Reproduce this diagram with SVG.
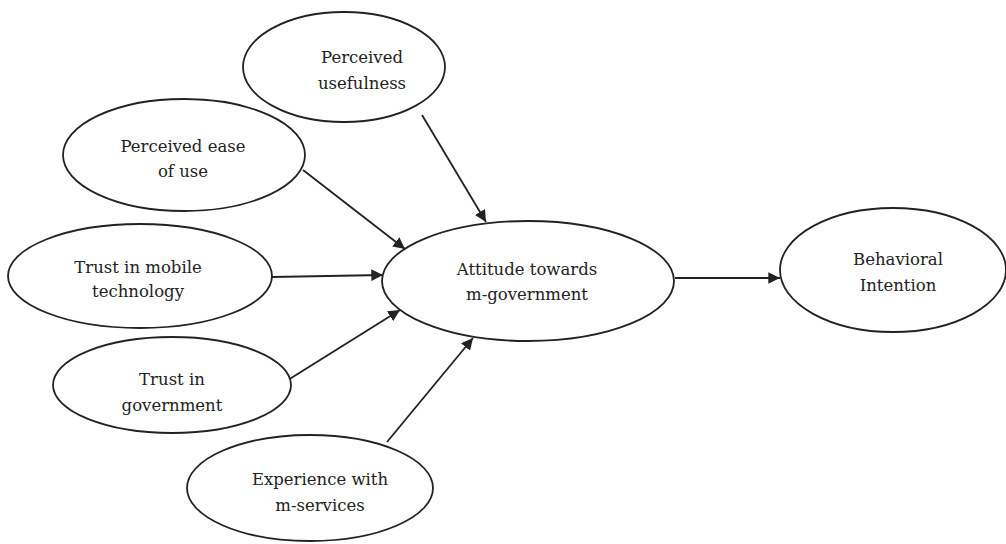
<svg xmlns="http://www.w3.org/2000/svg" width="1006" height="544" viewBox="0 0 1006 544">
<defs>
<style>
.n{fill:#fff;stroke:#222;stroke-width:1.8}
.t{font-family:"DejaVu Serif","Liberation Serif",serif;font-size:16.5px;fill:#222;text-anchor:middle}
.c{stroke:#222;stroke-width:1.8;fill:none;marker-end:url(#ah)}
</style>
<marker id="ah" viewBox="0 0 10 10" refX="10" refY="5" markerWidth="6.5" markerHeight="6.5" orient="auto" markerUnits="strokeWidth">
<path d="M0,0 L10,5 L0,10 z" fill="#222"/>
</marker>
</defs>
<rect width="1006" height="544" fill="#fff"/>
<g id="connectors">
<line class="c" x1="422" y1="115" x2="486" y2="222"/>
<line class="c" x1="303" y1="170" x2="405" y2="249"/>
<line class="c" x1="272" y1="277" x2="383" y2="275"/>
<line class="c" x1="288" y1="380" x2="400" y2="310"/>
<line class="c" x1="387" y1="442" x2="473" y2="338"/>
<line class="c" x1="675" y1="278" x2="780" y2="278"/>
</g>
<g id="pu">
<ellipse class="n" cx="344" cy="67" rx="101" ry="55"/>
<text class="t" x="362" y="63">Perceived</text>
<text class="t" x="362" y="89">usefulness</text>
</g>
<g id="peou">
<ellipse class="n" cx="184" cy="155" rx="121" ry="56"/>
<text class="t" x="183" y="152">Perceived ease</text>
<text class="t" x="183" y="177">of use</text>
</g>
<g id="tmt">
<ellipse class="n" cx="140" cy="276" rx="132" ry="52"/>
<text class="t" x="138" y="273">Trust in mobile</text>
<text class="t" x="138" y="297">technology</text>
</g>
<g id="tg">
<ellipse class="n" cx="172" cy="385" rx="119" ry="48"/>
<text class="t" x="172" y="385">Trust in</text>
<text class="t" x="172" y="411">government</text>
</g>
<g id="exp">
<ellipse class="n" cx="310" cy="488" rx="123" ry="53"/>
<text class="t" x="320" y="485">Experience with</text>
<text class="t" x="320" y="511">m-services</text>
</g>
<g id="att">
<ellipse class="n" cx="528" cy="281" rx="146" ry="60"/>
<text class="t" x="527" y="275">Attitude towards</text>
<text class="t" x="527" y="300">m-government</text>
</g>
<g id="bi">
<ellipse class="n" cx="893" cy="270" rx="113" ry="62"/>
<text class="t" x="898" y="265">Behavioral</text>
<text class="t" x="898" y="291">Intention</text>
</g>
</svg>
